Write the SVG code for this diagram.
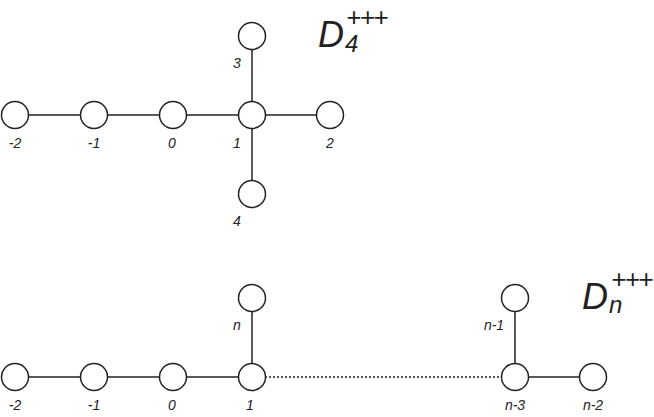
<svg xmlns="http://www.w3.org/2000/svg" width="654" height="417" viewBox="0 0 654 417">
<style>
.n{fill:#fff;stroke:#222;stroke-width:1.5}
.e{stroke:#222;stroke-width:1.5;fill:none}
.d{stroke:#222;stroke-width:1.5;stroke-dasharray:2 2;fill:none}
.l{font-family:"Liberation Sans",Arial,sans-serif;font-style:italic;font-size:14px;fill:#222;text-anchor:middle}
.t{font-family:"Liberation Sans",Arial,sans-serif;font-style:italic;fill:#222}
</style>
<rect width="654" height="417" fill="#fff"/>
<g id="connectors">
<line class="e" x1="15" y1="115" x2="330" y2="115"/>
<line class="e" x1="252" y1="36" x2="252" y2="194"/>
<line class="e" x1="15" y1="377" x2="252" y2="377"/>
<line class="d" x1="265" y1="377" x2="502" y2="377"/>
<line class="e" x1="515" y1="377" x2="593" y2="377"/>
<line class="e" x1="252" y1="298" x2="252" y2="377"/>
<line class="e" x1="515" y1="298" x2="515" y2="377"/>
</g>
<g id="t-m2"><circle class="n" cx="15" cy="115" r="13.5"/><text class="l" x="15" y="148">-2</text></g>
<g id="t-m1"><circle class="n" cx="94" cy="115" r="13.5"/><text class="l" x="94" y="148">-1</text></g>
<g id="t-0"><circle class="n" cx="173" cy="115" r="13.5"/><text class="l" x="172" y="148">0</text></g>
<g id="t-1"><circle class="n" cx="252" cy="115" r="13.5"/><text class="l" x="237" y="148">1</text></g>
<g id="t-2"><circle class="n" cx="330" cy="115" r="13.5"/><text class="l" x="330" y="148">2</text></g>
<g id="t-3"><circle class="n" cx="252" cy="36" r="13.5"/><text class="l" x="237" y="68">3</text></g>
<g id="t-4"><circle class="n" cx="252" cy="194" r="13.5"/><text class="l" x="237" y="226">4</text></g>
<g id="title-top"><text class="t" x="318" y="47" font-size="36">D</text><text class="t" x="345" y="52" font-size="24">4</text><text class="t" x="346" y="26" font-size="26" letter-spacing="-1.5">+++</text></g>
<g id="b-m2"><circle class="n" cx="15" cy="377" r="13.5"/><text class="l" x="15" y="410">-2</text></g>
<g id="b-m1"><circle class="n" cx="94" cy="377" r="13.5"/><text class="l" x="94" y="410">-1</text></g>
<g id="b-0"><circle class="n" cx="173" cy="377" r="13.5"/><text class="l" x="172" y="410">0</text></g>
<g id="b-1"><circle class="n" cx="252" cy="377" r="13.5"/><text class="l" x="250" y="410">1</text></g>
<g id="b-n"><circle class="n" cx="252" cy="298" r="13.5"/><text class="l" x="237" y="330">n</text></g>
<g id="b-n3"><circle class="n" cx="515" cy="377" r="13.5"/><text class="l" x="515" y="410">n-3</text></g>
<g id="b-n2"><circle class="n" cx="593" cy="377" r="13.5"/><text class="l" x="593" y="410">n-2</text></g>
<g id="b-n1"><circle class="n" cx="515" cy="298" r="13.5"/><text class="l" x="494" y="330">n-1</text></g>
<g id="title-bottom"><text class="t" x="582" y="309" font-size="36">D</text><text class="t" x="609" y="313" font-size="24">n</text><text class="t" x="611" y="288" font-size="26" letter-spacing="-1.5">+++</text></g>
</svg>
